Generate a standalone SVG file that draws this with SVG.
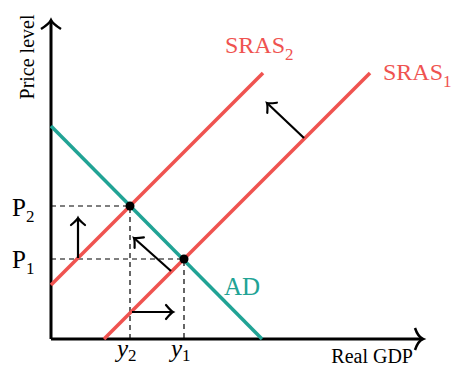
<svg xmlns="http://www.w3.org/2000/svg" width="465" height="368" viewBox="0 0 465 368">
<style>
text{font-family:"Liberation Serif","DejaVu Serif",serif;}
.ax{stroke:#000;stroke-width:3;fill:none;}
.red{stroke:#ef5350;stroke-width:3.5;fill:none;}
.teal{stroke:#21a395;stroke-width:3.5;fill:none;}
.dash{stroke:#000;stroke-width:1.2;stroke-dasharray:5,4;fill:none;}
.arr{stroke:#000;stroke-width:2.2;fill:none;}
.lr{fill:#ef5350;font-size:24px;}
.lt{fill:#21a395;font-size:25px;}
.lb{fill:#000;}
</style>
<defs>
<marker id="head" markerUnits="userSpaceOnUse" markerWidth="20" markerHeight="20" viewBox="-10 -10 20 20" refX="0" refY="0" orient="auto">
<path d="M -7,-7 Q -2,-1 0,0 Q -2,1 -7,7" stroke="#000" stroke-width="2.2" fill="none" stroke-linecap="round"/>
</marker>
</defs>
<g id="axes">
<path class="ax" d="M51,339 V22"/>
<path class="ax" d="M51,339 H422"/>
<path d="M41,29 Q49,24 51,20 Q53,24 61,29" stroke="#000" stroke-width="2.5" fill="none"/>
<path d="M415,328 Q418,337 423,339 Q418,341 415,350" stroke="#000" stroke-width="2.5" fill="none"/>
<text class="lb" x="0" y="0" font-size="20" text-anchor="middle" transform="translate(34,57) rotate(-90)">Price level</text>
<text class="lb" x="413" y="363" font-size="20" text-anchor="end">Real GDP</text>
</g>
<g id="guides">
<path class="dash" d="M51,206 H130 V339"/>
<path class="dash" d="M51,259 H184 V339"/>
</g>
<g id="AD">
<path class="teal" d="M51,126 L262,339"/>
<text class="lt" x="224" y="295">AD</text>
</g>
<g id="SRAS1">
<path class="red" d="M104,339 L370,73"/>
<text class="lr" x="383" y="80">SRAS<tspan font-size="17" dy="7">1</tspan></text>
</g>
<g id="SRAS2">
<path class="red" d="M51,285 L263,73"/>
<text class="lr" x="225" y="53">SRAS<tspan font-size="17" dy="7">2</tspan></text>
</g>
<g id="connectors">
<path class="arr" d="M304,138 L267,103" marker-end="url(#head)"/>
<path class="arr" d="M78,258 V218" marker-end="url(#head)"/>
<path class="arr" d="M171,271 L134,238" marker-end="url(#head)"/>
<path class="arr" d="M132,312 H173" marker-end="url(#head)"/>
</g>
<g id="equilibria">
<circle cx="130" cy="206" r="4.5" fill="#000"/>
<circle cx="184" cy="259" r="4.5" fill="#000"/>
</g>
<g id="labels">
<text class="lb" x="12" y="216" font-size="25">P<tspan font-size="17" dy="6">2</tspan></text>
<text class="lb" x="12" y="268" font-size="25">P<tspan font-size="17" dy="6">1</tspan></text>
<text class="lb" x="117" y="357" font-size="25" font-style="italic">y<tspan font-size="17" font-style="normal" dy="4">2</tspan></text>
<text class="lb" x="171" y="357" font-size="25" font-style="italic">y<tspan font-size="17" font-style="normal" dy="4">1</tspan></text>
</g>
</svg>
